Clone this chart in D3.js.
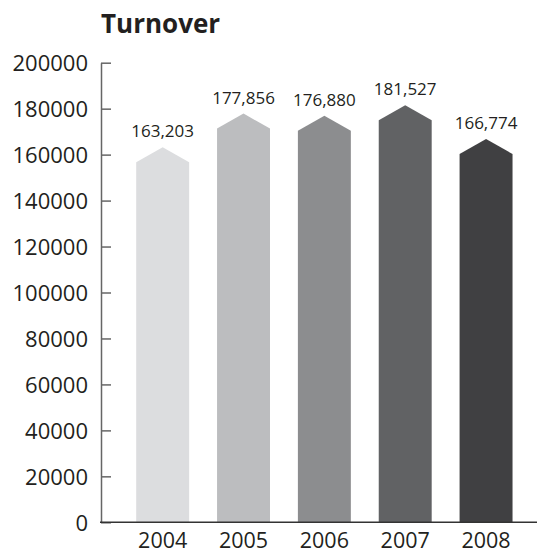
<!DOCTYPE html>
<html>
<head>
<meta charset="utf-8">
<script src="https://cdn.jsdelivr.net/npm/d3@7"></script>
<style>
  html, body { margin: 0; padding: 0; background: #fff; }
  svg { display: block; font-family: "Open Sans", sans-serif; }
</style>
</head>
<body>
<svg id="chart" width="537" height="551"></svg>
<script>
// Annual turnover, 2004–2008
const years = ["2004", "2005", "2006", "2007", "2008"];
const turnover = [163203, 177856, 176880, 181527, 166774];
const barColors = ["#dcdddf", "#bcbdbf", "#8c8d8f", "#616264", "#404042"];
const yTicks = [0, 20000, 40000, 60000, 80000, 100000, 120000, 140000, 160000, 180000, 200000];

const svg = d3.select("#chart");
const plotLeft = 101, plotRight = 537, plotTop = 62.7, plotBottom = 522.3;
const arrowHeight = 15;

const x = d3.scaleBand()
  .domain(years)
  .range([plotLeft, plotRight])
  .paddingInner(0.345)
  .paddingOuter(0.369)
  .align(0.59);

const y = d3.scaleLinear()
  .domain([0, 200000])
  .range([plotBottom, plotTop]);

// Title
svg.append("text")
  .attr("x", 101)
  .attr("y", 33)
  .attr("font-size", 26)
  .attr("font-weight", 700)
  .attr("fill", "#231f20")
  .text("Turnover");

// Bars with an arrow-shaped top; the tip sits at the value
const bw = x.bandwidth();
svg.append("g").selectAll("path")
  .data(years)
  .join("path")
  .attr("fill", (d, i) => barColors[i])
  .attr("d", (d, i) => {
    const x0 = x(d), x1 = x0 + bw, xm = x0 + bw / 2;
    const tip = y(turnover[i]);
    return `M${x0},${plotBottom}V${tip + arrowHeight}L${xm},${tip}L${x1},${tip + arrowHeight}V${plotBottom}Z`;
  });

// Value labels
const fmt = d3.format(",");
svg.append("g").selectAll("text")
  .data(years)
  .join("text")
  .attr("x", d => x(d) + bw / 2)
  .attr("y", (d, i) => y(turnover[i]) - 10)
  .attr("text-anchor", "middle")
  .attr("font-size", 17)
  .attr("fill", "#231f20")
  .text((d, i) => fmt(turnover[i]));

// Y axis
const yAxis = svg.append("g")
  .attr("transform", `translate(${plotLeft},0)`)
  .call(d3.axisRight(y).tickValues(yTicks).tickFormat(d3.format("d")).tickSize(10).tickSizeOuter(0));
yAxis.select(".domain").attr("stroke", "#666").attr("stroke-width", 1.5);
yAxis.selectAll(".tick line").attr("stroke", "#666").attr("stroke-width", 1.5);
yAxis.selectAll(".tick text")
  .attr("x", -13)
  .attr("dy", "0.35em")
  .attr("text-anchor", "end")
  .attr("font-size", 22)
  .attr("font-family", "Open Sans, sans-serif")
  .attr("fill", "#231f20");

// X axis
const xAxis = svg.append("g")
  .attr("transform", `translate(0,${plotBottom})`)
  .call(d3.axisBottom(x).tickSize(0).tickSizeOuter(0));
xAxis.select(".domain").attr("stroke", "#333").attr("stroke-width", 1.5)
  .attr("d", `M${plotLeft - 1},0H${plotRight}`);
xAxis.selectAll(".tick text")
  .attr("y", 25.5)
  .attr("dy", 0)
  .attr("font-size", 21.5)
  .attr("font-family", "Open Sans, sans-serif")
  .attr("fill", "#231f20");
</script>
</body>
</html>
